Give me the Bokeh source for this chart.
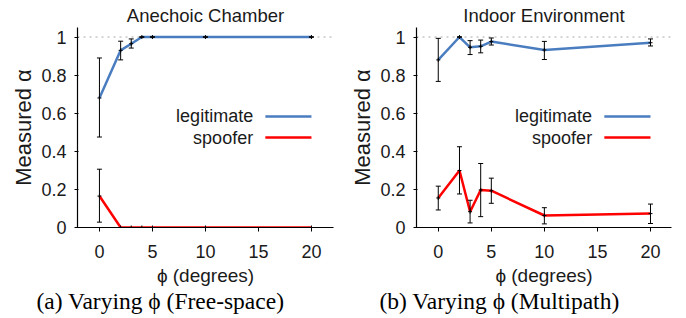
from bokeh.plotting import figure
from bokeh.models import (Range1d, FixedTicker, Span, Whisker, ColumnDataSource,
                          Label, Title, TeeHead)
from bokeh.layouts import row
from bokeh.embed import file_html
from bokeh.resources import INLINE

# ---- data ----
phi = [0, 2, 3, 4, 5, 10, 20]

free_legit = [0.68, 0.93, 0.965, 1.0, 1.0, 1.0, 1.0]
free_legit_lo = [0.475, 0.88, 0.942, 1.0, 1.0, 1.0, 1.0]
free_legit_hi = [0.89, 0.978, 0.99, 1.0, 1.0, 1.0, 1.0]
free_spoof = [0.165, 0.0, 0.0, 0.0, 0.0, 0.0, 0.0]
free_spoof_lo = [0.028, 0.0, 0.0, 0.0, 0.0, 0.0, 0.0]
free_spoof_hi = [0.306, 0.0, 0.0, 0.0, 0.0, 0.0, 0.0]

multi_legit = [0.88, 1.0, 0.946, 0.951, 0.976, 0.932, 0.970]
multi_legit_lo = [0.767, 1.0, 0.908, 0.917, 0.958, 0.882, 0.953]
multi_legit_hi = [0.993, 1.0, 0.981, 0.984, 0.995, 0.977, 0.990]
multi_spoof = [0.155, 0.299, 0.083, 0.197, 0.193, 0.063, 0.073]
multi_spoof_lo = [0.092, 0.176, 0.024, 0.057, 0.127, 0.019, 0.021]
multi_spoof_hi = [0.217, 0.424, 0.143, 0.336, 0.259, 0.104, 0.123]

y_ticks = [0, 0.2, 0.4, 0.6, 0.8, 1]
y_tick_labels = {0: "0", 0.2: "0.2", 0.4: "0.4", 0.6: "0.6", 0.8: "0.8", 1: "1"}
x_ticks = [0, 5, 10, 15, 20]
series_names = ["legitimate", "spoofer"]

BLUE = "#4a7dc0"
RED = "#ff0000"
SANS = "Liberation Sans"
SERIF = "Liberation Serif"
TXT = "#1a1a1a"


def panel(title, caption, legit, llo, lhi, spoof, slo, shi,
          x_start, x_end, bl, br, cap_off):
    p = figure(width=343, height=318, output_backend="svg", toolbar_location=None,
               x_range=Range1d(x_start, x_end), y_range=Range1d(0, 1.05),
               min_border_left=bl, min_border_right=br, min_border_top=27,
               min_border_bottom=91, outline_line_color=None)
    p.grid.visible = False
    p.title.text = title
    p.title.align = "center"
    p.title.text_font = SANS
    p.title.text_font_size = "18.5px"
    p.title.text_font_style = "normal"
    p.title.text_color = TXT
    p.title.standoff = 3

    for ax in (p.xaxis[0], p.yaxis[0]):
        ax.axis_line_color = "black"
        ax.axis_line_width = 1.2
        ax.major_tick_line_color = "black"
        ax.minor_tick_line_color = None
        ax.major_label_text_font = SANS
        ax.major_label_text_font_size = "18px"
        ax.major_label_text_color = TXT
        ax.axis_label_text_font = SANS
        ax.axis_label_text_font_style = "normal"
        ax.axis_label_text_color = TXT

    p.xaxis.ticker = FixedTicker(ticks=x_ticks)
    p.xaxis.major_tick_out = 4
    p.xaxis.major_tick_in = 0
    p.xaxis.major_label_standoff = 13
    p.xaxis.axis_label = "ϕ (degrees)"
    p.xaxis.axis_label_text_font_size = "19px"
    p.xaxis.axis_label_standoff = 4

    p.yaxis.ticker = FixedTicker(ticks=y_ticks)
    p.yaxis.major_label_overrides = y_tick_labels
    p.yaxis.major_tick_out = 3
    p.yaxis.major_tick_in = 1
    p.yaxis.major_label_standoff = 8
    p.yaxis.axis_label = "Measured α"
    p.yaxis.axis_label_text_font_size = "22px"
    p.yaxis.axis_label_standoff = 2

    p.add_layout(Span(location=1, dimension="width", line_color="#aaaaaa",
                      line_dash="dotted", line_width=1, level="underlay"))

    for vals, lo, hi, col in ((legit, llo, lhi, BLUE), (spoof, slo, shi, RED)):
        src = ColumnDataSource(dict(x=phi, y=vals, lo=lo, hi=hi))
        p.line("x", "y", source=src, line_color=col, line_width=2.5)
        p.add_layout(Whisker(source=src, base="x", lower="lo", upper="hi",
                             line_color="black", line_width=1, level="overlay",
                             upper_head=TeeHead(size=5, line_color="black", line_width=1),
                             lower_head=TeeHead(size=5, line_color="black", line_width=1)))
        p.scatter("x", "y", source=src, marker="cross", size=4,
                  line_color="black", line_width=1)

    # legend: label on the left, line sample on the right
    for name, col, yl in ((series_names[0], BLUE, 0.583), (series_names[1], RED, 0.472)):
        p.add_layout(Label(x=14.5, y=yl, text=name, text_align="right",
                           text_baseline="middle", text_font=SANS,
                           text_font_size="18px", text_color=TXT))
        p.segment(x0=[15.65], y0=[yl], x1=[20.0], y1=[yl], line_color=col, line_width=2.5)

    # sub-figure caption below the axis
    p.add_layout(Title(text=caption, align="left", offset=cap_off,
                       text_font=SERIF, text_font_size="23.5px",
                       text_font_style="normal", text_color="black",
                       standoff=-6), "below")
    return p


p1 = panel("Anechoic Chamber", "(a)  Varying ϕ (Free-space)",
           free_legit, free_legit_lo, free_legit_hi,
           free_spoof, free_spoof_lo, free_spoof_hi,
           -2.07, 22.08, 77, 10, -41)
p2 = panel("Indoor Environment", "(b)  Varying ϕ (Multipath)",
           multi_legit, multi_legit_lo, multi_legit_hi,
           multi_spoof, multi_spoof_lo, multi_spoof_hi,
           -2.05, 21.98, 73, 15, -37)

layout = row(p1, p2)
open("out.html", "w").write(file_html(layout, INLINE))
